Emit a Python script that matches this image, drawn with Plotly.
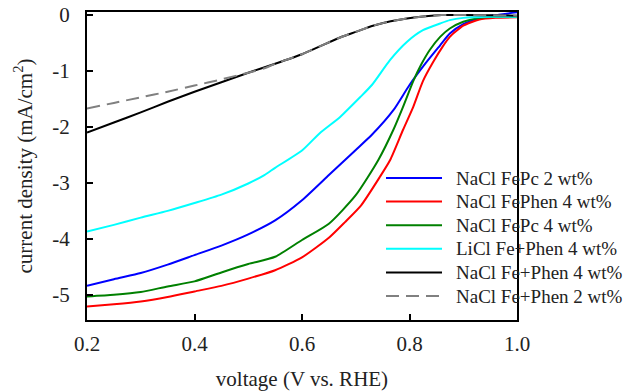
import plotly.graph_objects as go

# ---- data ----
v_fepc2 = [0.20,0.25,0.30,0.35,0.40,0.45,0.50,0.55,0.60,0.65,0.68,0.70,0.73,0.77,0.80,0.83,0.857,0.875,0.90,0.93,0.96,1.00]
j_fepc2 = [-4.84,-4.72,-4.61,-4.46,-4.29,-4.12,-3.92,-3.67,-3.31,-2.86,-2.59,-2.41,-2.14,-1.70,-1.25,-0.86,-0.54,-0.33,-0.16,-0.06,0.00,0.05]

v_fephen4 = [0.20,0.25,0.30,0.35,0.40,0.45,0.50,0.55,0.60,0.65,0.68,0.71,0.745,0.764,0.788,0.807,0.825,0.844,0.862,0.875,0.90,0.93,0.96,1.00]
j_fephen4 = [-5.21,-5.17,-5.12,-5.04,-4.94,-4.84,-4.71,-4.56,-4.33,-3.98,-3.70,-3.40,-2.89,-2.59,-2.05,-1.64,-1.18,-0.84,-0.56,-0.39,-0.19,-0.08,-0.05,-0.04]

v_fepc4 = [0.20,0.25,0.30,0.35,0.40,0.45,0.50,0.55,0.60,0.65,0.70,0.742,0.77,0.788,0.807,0.822,0.838,0.857,0.875,0.90,0.93,0.96,1.00]
j_fepc4 = [-5.03,-5.00,-4.95,-4.85,-4.76,-4.60,-4.45,-4.32,-4.02,-3.73,-3.22,-2.59,-2.05,-1.64,-1.18,-0.88,-0.62,-0.39,-0.24,-0.12,-0.05,-0.03,-0.03]

v_licl4 = [0.20,0.25,0.30,0.35,0.40,0.45,0.50,0.53,0.55,0.60,0.633,0.671,0.708,0.73,0.764,0.795,0.825,0.857,0.875,0.90,0.95,1.00]
j_licl4 = [-3.87,-3.75,-3.62,-3.50,-3.36,-3.21,-3.01,-2.86,-2.73,-2.42,-2.11,-1.82,-1.47,-1.25,-0.80,-0.48,-0.27,-0.15,-0.09,-0.05,-0.03,-0.03]

v_nacl4 = [0.20,0.25,0.30,0.35,0.40,0.45,0.50,0.55,0.60,0.633,0.671,0.70,0.732,0.765,0.795,0.83,0.86,0.90,1.00]
j_nacl4 = [-2.10,-1.92,-1.74,-1.55,-1.37,-1.20,-1.03,-0.87,-0.70,-0.56,-0.40,-0.30,-0.19,-0.11,-0.06,-0.02,0.00,0.00,-0.01]

v_nacl2 = [0.20,0.25,0.30,0.35,0.40,0.45,0.50,0.53,0.55,0.60,0.633,0.671,0.70,0.732,0.765,0.795,0.83,0.86,0.90,1.00]
j_nacl2 = [-1.67,-1.57,-1.47,-1.37,-1.26,-1.15,-1.03,-0.95,-0.87,-0.70,-0.56,-0.40,-0.30,-0.19,-0.11,-0.06,-0.02,0.00,0.00,-0.01]

names = ["NaCl FePc 2 wt%", "NaCl FePhen 4 wt%", "NaCl FePc 4 wt%",
         "LiCl Fe+Phen 4 wt%", "NaCl Fe+Phen 4 wt%", "NaCl Fe+Phen 2 wt%"]
xs = [v_fepc2, v_fephen4, v_fepc4, v_licl4, v_nacl4, v_nacl2]
ys = [j_fepc2, j_fephen4, j_fepc4, j_licl4, j_nacl4, j_nacl2]
colors = ["#0000ff", "#ff0000", "#008000", "#00ffff", "#000000", "#808080"]
dashes = ["solid", "solid", "solid", "solid", "solid", "13px,7px"]

x_ticks = [0.2, 0.4, 0.6, 0.8, 1.0]
x_ticktext = ["0.2", "0.4", "0.6", "0.8", "1.0"]
y_ticks = [0, -1, -2, -3, -4, -5]
y_ticktext = ["0", "-1", "-2", "-3", "-4", "-5"]

FONT = "Liberation Serif"
TXT = "#222222"

# plot-area geometry (pixels) used to place the hand-built legend
W, H = 636, 391
ML, MR, MT, MB = 87, 119, 12, 71
PW, PH = W - ML - MR, H - MT - MB

def px2paper_x(px):
    return (px - ML) / PW

def px2paper_y(py):
    return (H - MB - py) / PH

fig = go.Figure()
for x, y, n, c, d in zip(xs, ys, names, colors, dashes):
    fig.add_trace(go.Scatter(x=x, y=y, mode="lines", name=n, showlegend=False,
                             line=dict(color=c, width=2, dash=d, shape="spline", smoothing=0.6)))

# legend drawn as shapes + annotations (transparent, overlapping the frame like the reference)
LEG_LINE_X0, LEG_LINE_X1, LEG_TEXT_X = 386, 442, 454
LEG_ROW0, LEG_ROW_STEP = 178, 23.6
for i, (n, c, d) in enumerate(zip(names, colors, dashes)):
    yy = px2paper_y(LEG_ROW0 + i * LEG_ROW_STEP)
    fig.add_shape(type="line", xref="paper", yref="paper",
                  x0=px2paper_x(LEG_LINE_X0), x1=px2paper_x(LEG_LINE_X1), y0=yy, y1=yy,
                  line=dict(color=c, width=2, dash=d))
    fig.add_annotation(xref="paper", yref="paper", x=px2paper_x(LEG_TEXT_X), y=yy,
                       xanchor="left", yanchor="middle", showarrow=False, text=n,
                       font=dict(family=FONT, size=19, color=TXT))

fig.update_layout(
    template="none",
    width=W, height=H,
    margin=dict(l=ML, r=MR, t=MT, b=MB, pad=0),
    paper_bgcolor="white", plot_bgcolor="white",
    font=dict(family=FONT, size=20, color=TXT),
    showlegend=False,
    xaxis=dict(range=[0.2, 1.0], tickvals=x_ticks, ticktext=x_ticktext, automargin=False,
               ticks="inside", ticklen=6, tickwidth=2, tickcolor="black",
               showline=True, linecolor="black", linewidth=2, mirror=True,
               showgrid=False, zeroline=False, ticklabelstandoff=4,
               title=dict(text="voltage (V vs. RHE)", standoff=27,
                          font=dict(family=FONT, size=21, color=TXT)),
               tickfont=dict(family=FONT, size=21, color=TXT)),
    yaxis=dict(range=[-5.45, 0.055], tickvals=y_ticks, ticktext=y_ticktext, automargin=False,
               ticks="inside", ticklen=6, tickwidth=2, tickcolor="black",
               showline=True, linecolor="black", linewidth=2, mirror=True,
               showgrid=False, zeroline=False, ticklabelstandoff=11,
               title=dict(text="current density (mA/cm<sup>2</sup>)", standoff=14,
                          font=dict(family=FONT, size=21, color=TXT)),
               tickfont=dict(family=FONT, size=21, color=TXT)),
)

fig.write_html("out.html")
